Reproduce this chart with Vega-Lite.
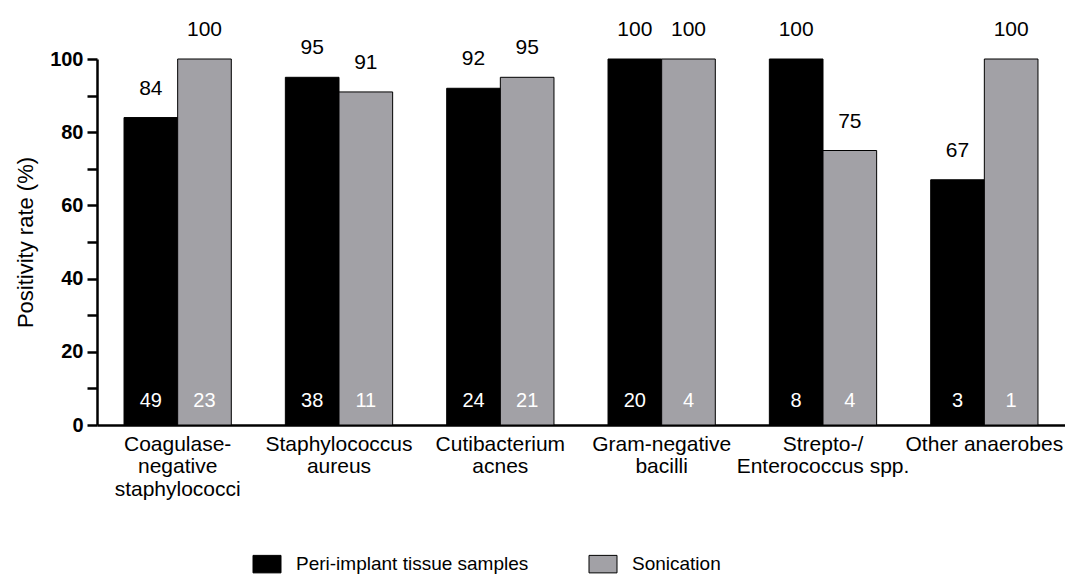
{
  "$schema": "https://vega.github.io/schema/vega-lite/v6.json",
  "width": 968,
  "height": 366,
  "autosize": {"type": "none"},
  "padding": {"left": 97, "top": 59, "right": 0, "bottom": 149},
  "config": {
    "view": {"stroke": null},
    "font": "Liberation Sans",
    "axis": {"grid": false, "domainColor": "#000", "tickColor": "#000", "labelColor": "#000", "titleColor": "#000"}
  },
  "data": {
    "values": [
      {"category": "Coagulase-|negative|staphylococci", "series": "Peri-implant tissue samples", "rate": 84, "n": 49},
      {"category": "Coagulase-|negative|staphylococci", "series": "Sonication", "rate": 100, "n": 23},
      {"category": "Staphylococcus|aureus", "series": "Peri-implant tissue samples", "rate": 95, "n": 38},
      {"category": "Staphylococcus|aureus", "series": "Sonication", "rate": 91, "n": 11},
      {"category": "Cutibacterium|acnes", "series": "Peri-implant tissue samples", "rate": 92, "n": 24},
      {"category": "Cutibacterium|acnes", "series": "Sonication", "rate": 95, "n": 21},
      {"category": "Gram-negative|bacilli", "series": "Peri-implant tissue samples", "rate": 100, "n": 20},
      {"category": "Gram-negative|bacilli", "series": "Sonication", "rate": 100, "n": 4},
      {"category": "Strepto-/|Enterococcus spp.", "series": "Peri-implant tissue samples", "rate": 100, "n": 8},
      {"category": "Strepto-/|Enterococcus spp.", "series": "Sonication", "rate": 75, "n": 4},
      {"category": "Other anaerobes", "series": "Peri-implant tissue samples", "rate": 67, "n": 3},
      {"category": "Other anaerobes", "series": "Sonication", "rate": 100, "n": 1}
    ]
  },
  "encoding": {
    "x": {
      "field": "category", "type": "nominal", "sort": null,
      "scale": {"paddingInner": 0.335, "paddingOuter": 0.1675},
      "axis": {
        "title": null, "labelExpr": "split(datum.label, '|')", "labelAngle": 0,
        "ticks": false, "domainWidth": 2.5, "labelFontSize": 21, "labelPadding": 8,
        "labelLineHeight": 22.5, "labelBaseline": "top", "labelLimit": 0
      }
    },
    "xOffset": {"field": "series", "type": "nominal", "sort": null},
    "y": {
      "field": "rate", "type": "quantitative",
      "scale": {"domain": [0, 100]},
      "axis": {
        "title": "Positivity rate (%)", "values": [0, 10, 20, 30, 40, 50, 60, 70, 80, 90, 100],
        "labelExpr": "datum.value % 20 === 0 ? datum.label : ''",
        "labelFontWeight": "bold", "labelFontSize": 20, "tickSize": 10, "tickWidth": 2.5,
        "domainWidth": 2.5, "labelPadding": 4, "titleFontSize": 22, "titleFontWeight": "normal",
        "titlePadding": 12
      }
    }
  },
  "layer": [
    {
      "mark": {"type": "bar", "stroke": "#000", "strokeWidth": 1},
      "encoding": {
        "color": {
          "field": "series", "type": "nominal",
          "scale": {"domain": ["Peri-implant tissue samples", "Sonication"], "range": ["#000000", "#a2a1a6"]},
          "legend": {
            "orient": "none", "legendX": 152, "legendY": 487, "direction": "horizontal", "title": null,
            "symbolType": "M-0.8,-0.5H0.8V0.5H-0.8Z", "symbolSize": 1225, "symbolStrokeColor": "#000",
            "symbolStrokeWidth": 1, "symbolOpacity": 1, "labelFontSize": 19, "labelOffset": 11,
            "labelLimit": 0, "columnPadding": 56, "labelColor": "#000", "padding": 0
          }
        }
      }
    },
    {
      "mark": {"type": "text", "fontSize": 21, "baseline": "alphabetic", "dy": -23, "color": "#000"},
      "encoding": {"text": {"field": "rate"}}
    },
    {
      "mark": {"type": "text", "fontSize": 20, "baseline": "alphabetic", "dy": -18, "color": "#fff"},
      "encoding": {"y": {"datum": 0}, "text": {"field": "n"}}
    }
  ]
}
